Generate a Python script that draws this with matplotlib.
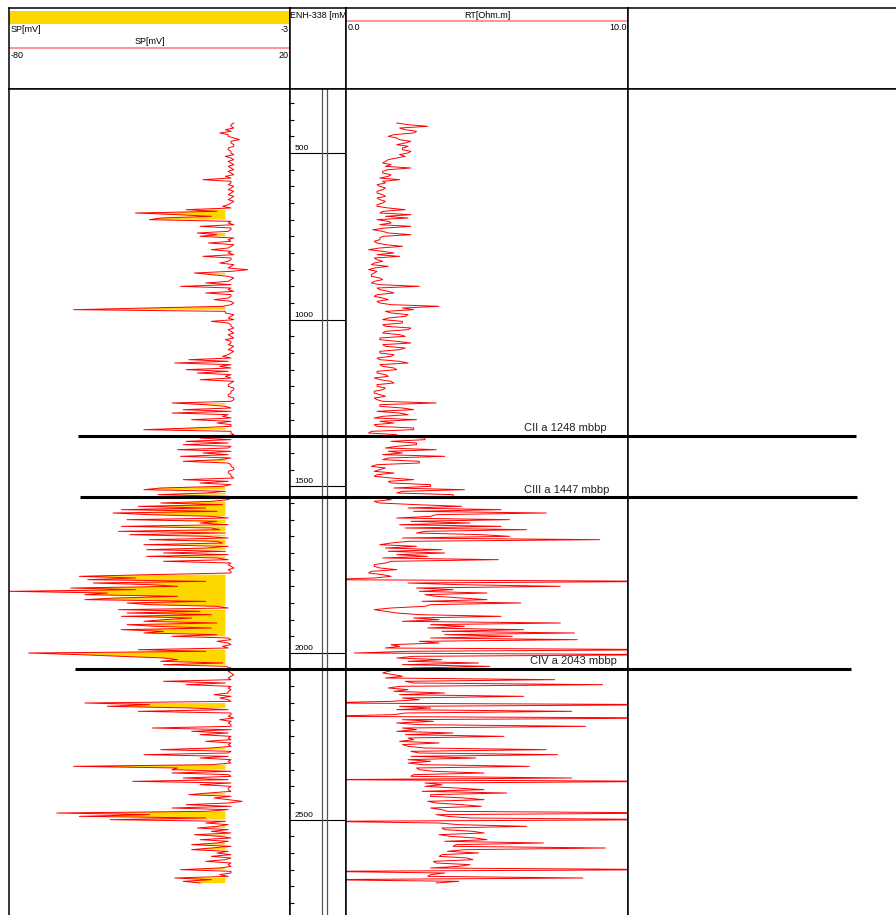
import numpy as np
import matplotlib.pyplot as plt

plt.rcParams['font.family'] = ['Liberation Sans', 'DejaVu Sans']

# log samples, first sample depth and interval (m MD)
top_depth = 410
step = 5

# SP [mV], one value every 5 m from 410 m (one row = 100 m)
sp_mv = [
    0, -1, -1, 0, -3, -1, -5, -2, -2, 0, 2, -1, -1, 0, 0, -2, -2, -1, -1, 0,                # 410
    -3, -1, 0, -2, -1, 0, -2, -1, 0, -2, -1, 0, -3, -1, -11, -1, -1, -2, 0, -1,             # 510
    -2, 0, -1, -2, 0, -1, -2, 0, -1, -2, -4, -1, -17, -6, -35, -20, -8, -26, -30, -1,       # 610
    -2, 0, -12, -1, -1, -2, -13, -6, -12, 0, -2, -1, -9, 0, -1, -2, -8, -1, -2, 0,          # 710
    -11, -1, -1, -2, -5, 0, -1, -2, 5, -1, -14, -8, -2, 0, -1, -2, -10, -1, -19, -1,        # 810
    -2, 0, -10, -1, -1, -2, -7, -1, 0, -1, -4, -30, -57, -3, -3, 0, -1, -2, 0, -8,          # 910
    -2, -1, -1, 0, -2, -1, 0, -2, -1, 0, -3, -1, -1, -2, 0, -1, -2, 0, -1, -2,              # 1010
    -4, -1, -16, -2, -21, -1, -5, -1, -17, -2, -13, -1, -3, -1, -12, 0, -1, -2, -2, 0,      # 1110
    0, -1, -1, -2, -2, 0, 0, -1, -22, -10, -3, -1, -18, -1, -22, -2, -4, -1, -15, -1,       # 1210
    -6, -1, -1, -15, -32, -1, -1, 0, -4, -12, -1, -17, -2, -18, -1, -2, -20, -1, -11, -2,   # 1310
    -19, -1, -5, -18, -2, -1, -1, 0, 0, -2, -2, -1, -1, 0, -18, -2, -12, -1, -4, -26,       # 1410
    -32, -3, -10, -27, -2, -1, -2, -8, -26, -4, -34, -10, -40, -6, -43, -30, -8, -2, -38, -6,   # 1510
    -12, -2, -40, -8, -5, -41, -3, -37, -10, -2, -30, -6, -4, -32, -2, -10, -31, -3, -25, -2,   # 1610
    -31, -6, -2, -25, -1, -2, -1, 0, -2, -1, -1, -30, -55, -35, -52, -10, -50, -30, -20, -58,   # 1710
    -35, -80, -45, -53, -20, -42, -53, -10, -38, -30, -6, -2, -41, -12, -38, -8, -40, -15, -25, -32,  # 1810
    -6, -38, -28, -8, -40, -25, -32, -6, -22, -2, -1, -6, -2, -1, -4, -2, -34, -10, -73, -55,   # 1910
    -40, -25, -20, -26, -4, -25, -3, -1, 0, -2, -1, 0, -1, -2, -1, -25, -3, -17, -1, -2,        # 2010
    -1, -2, -2, -7, -1, -5, -2, -1, -53, -30, -45, -15, -2, -34, -1, -1, -2, 0, -5, -1,         # 2110
    -2, -1, -1, -29, -1, -15, -2, -12, -1, -2, -1, -10, -1, -2, -1, -8, -26, -1, -2, -32,       # 2210
    -2, -12, -1, -2, -1, -8, -57, -20, -22, -1, -22, -2, -1, -18, -2, -36, -1, -12, -1, -2,     # 2310
    -2, -1, -9, -16, -1, -7, -2, 3, -2, -17, -1, -22, -2, -10, -63, -30, -55, -10, -44, -3,     # 2410
    -10, -2, -6, -13, -2, -8, -1, -14, -5, -1, -12, -2, -6, -15, -1, -8, -15, -2, -6, -1,       # 2510
    -8, -1, -3, -10, -1, -2, -1, -5, -19, -1, -1, -5, -2, -21, -8, -18, -12,                    # 2610-2690
]

# RT [Ohm.m], same sampling
rt_ohmm = [
    1.8, 2.2, 2.9, 1.9, 2.1, 2.5, 2.4, 1.7, 1.5, 1.8, 1.9, 2.3, 2.1, 1.8, 2.2, 2.0, 2.0, 2.3, 2.2, 1.9,   # 410
    2.1, 1.8, 1.5, 1.4, 1.3, 1.6, 1.4, 2.3, 1.5, 1.3, 1.3, 1.6, 1.5, 1.2, 1.9, 1.3, 1.4, 1.1, 1.2, 1.4,   # 510
    1.3, 1.1, 1.1, 1.3, 1.4, 1.1, 1.2, 1.4, 1.3, 1.1, 1.1, 1.5, 2.1, 1.3, 1.2, 2.3, 1.4, 2.2, 1.1, 1.5,   # 610
    1.6, 1.2, 2.3, 1.4, 0.95, 1.3, 1.5, 2.3, 1.3, 1.2, 1.2, 1.0, 1.1, 1.4, 2.0, 1.2, 0.8, 1.3, 1.7, 1.1,  # 710
    1.9, 1.0, 1.1, 1.3, 1.0, 0.9, 1.5, 1.0, 0.8, 1.1, 1.0, 0.9, 0.9, 1.2, 1.3, 1.0, 0.9, 1.2, 2.6, 1.1,   # 810
    1.2, 1.5, 1.7, 1.1, 1.0, 1.3, 1.5, 1.1, 1.2, 1.6, 3.3, 2.0, 2.4, 1.4, 1.6, 2.2, 2.1, 1.5, 1.3, 2.0,   # 910
    2.0, 1.3, 1.4, 2.3, 2.2, 1.4, 1.3, 1.9, 2.1, 1.2, 1.2, 1.8, 2.3, 1.3, 1.4, 2.1, 1.9, 1.2, 1.2, 1.7,   # 1010
    1.6, 1.1, 1.2, 1.9, 2.2, 1.2, 1.3, 1.7, 1.8, 1.1, 1.1, 1.4, 1.5, 1.0, 1.2, 1.6, 1.7, 1.1, 1.1, 1.4,   # 1110
    1.3, 1.0, 1.0, 1.2, 1.4, 1.0, 1.1, 1.3, 3.2, 1.2, 1.2, 2.0, 2.4, 1.1, 1.9, 2.2, 1.3, 1.0, 2.5, 1.2,   # 1210
    1.7, 1.0, 1.1, 2.4, 2.4, 0.9, 0.8, 1.8, 1.5, 2.8, 2.8, 1.6, 2.5, 2.5, 1.8, 1.4, 3.2, 1.5, 2.0, 1.3,   # 1310
    3.5, 1.5, 1.3, 2.6, 2.6, 1.1, 0.9, 1.4, 1.2, 1.0, 1.7, 1.1, 1.0, 1.6, 2.4, 1.5, 1.6, 3.0, 3.0, 1.7,   # 1410
    4.2, 2.0, 1.8, 3.8, 3.8, 1.3, 1.6, 1.0, 1.2, 2.5, 4.1, 2.2, 5.5, 2.4, 7.1, 3.2, 3.0, 1.8, 5.8, 2.3,   # 1510
    4.4, 1.9, 5.5, 2.1, 6.4, 2.8, 2.5, 4.8, 5.8, 2.0, 9.0, 2.2, 1.6, 1.2, 2.5, 1.4, 3.4, 1.5, 3.5, 1.8,   # 1610
    2.9, 1.3, 5.4, 1.6, 1.4, 1.0, 1.0, 1.2, 1.8, 0.9, 0.8, 1.3, 1.6, 1.0, -1, 12, 2.2, 4.0, 7.6, 2.5,     # 1710
    3.8, 2.6, 5.0, 2.8, 3.2, 4.1, 5.0, 2.7, 6.2, 3.0, 2.8, 1.6, 1.0, 1.4, 1.8, 2.6, 5.5, 2.4, 3.3, 2.0,   # 1810
    7.6, 3.0, 4.2, 2.9, 6.3, 3.4, 8.1, 3.5, 5.9, 3.0, 8.2, 2.6, 3.3, 1.6, 1.9, 1.4, 12, 2.2, 0.3, 12,     # 1910
    2.4, 1.8, 3.4, 2.2, 4.7, 2.0, 5.1, 2.4, 1.8, 1.5, 1.3, 1.7, 2.0, 1.4, 7.4, 2.1, 2.4, 9.1, 1.9, 1.5,   # 2010
    2.2, 1.7, 3.5, 1.9, 6.3, 2.0, 2.6, 1.6, -1, 12, 1.9, 3.0, 1.8, 8.0, 2.1, 1.7, -1, 12, 2.0, 3.1,       # 2110
    1.8, 2.6, 8.5, 2.0, 2.5, 1.8, 3.8, 2.1, 5.6, 2.2, 2.4, 1.9, 3.3, 2.0, 2.2, 2.8, 7.1, 2.3, 2.6, 7.5,   # 2210
    2.3, 4.6, 2.2, 3.0, 2.2, 2.7, 6.5, 2.5, 2.6, 3.1, 4.9, 2.4, 2.3, 8.0, -1, 12, 2.8, 3.4, 2.8, 3.9,     # 2310
    4.9, 2.7, 5.7, 3.0, 3.0, 4.2, 4.9, 2.9, 3.2, 4.1, 4.8, 3.0, 3.4, 3.6, 12, 3.2, 3.6, 4.4, 12, -1,      # 2410
    3.3, 4.0, 6.4, 3.4, 3.5, 4.5, 4.9, 3.3, 3.7, 4.6, 5.0, 3.5, 7.0, 3.9, 3.8, 9.2, 4.2, 3.6, 4.7, 3.4,   # 2510
    3.3, 4.3, 4.5, 3.1, 3.2, 4.4, 4.0, 3.0, 12, -1, 3.5, 3.0, 2.9, 8.4, -1, 4.0, 3.2,                    # 2610-2690
]

sp_cutoff = -3
depth_labels = [500, 1000, 1500, 2000, 2500]
marker_depths = [1348, 1533, 2048]
marker_labels = ['CII a 1248 mbbp', 'CIII a 1447 mbbp', 'CIV a 2043 mbbp']

sp = np.array(sp_mv, float)
rt = np.array(rt_ohmm, float)
sp_depth = top_depth + step * np.arange(len(sp))
rt_depth = top_depth + step * np.arange(len(rt))

W, H = 896, 915
def box(x0, y0, x1, y1):
    # pixel box -> figure fraction
    return [x0 / W, 1 - y1 / H, (x1 - x0) / W, (y1 - y0) / H]

fig = plt.figure(figsize=(W / 100, H / 100), dpi=100)

dmin, dmax = 308, 2786
edges = [9, 290, 346, 628, 896]
heads, tracks = [], []
for i in range(4):
    h = fig.add_axes(box(edges[i], 8, edges[i + 1], 89))
    h.set_xlim(0, 1)
    h.set_ylim(89, 8)
    h.set_xticks([])
    h.set_yticks([])
    t = fig.add_axes(box(edges[i], 89, edges[i + 1], H))
    t.set_ylim(dmax, dmin)
    t.set_xticks([])
    t.set_yticks([])
    t.spines['bottom'].set_visible(False)
    for a in (h, t):
        for s in a.spines.values():
            s.set_linewidth(1.1)
    heads.append(h)
    tracks.append(t)
heads[3].spines['right'].set_visible(False)
tracks[3].spines['right'].set_visible(False)

fs = 6.5
# SP header
h = heads[0]
h.axhspan(10.5, 23.5, color='#FFD700', lw=0)
h.text(0.004, 29, 'SP[mV]', fontsize=fs, va='center')
h.text(0.996, 29, str(sp_cutoff), fontsize=fs, va='center', ha='right')
h.text(0.5, 42, 'SP[mV]', fontsize=fs, va='center', ha='center')
h.axhline(48, color='#FF8080', lw=1.2)
h.text(0.004, 55, '-80', fontsize=fs, va='center')
h.text(0.996, 55, '20', fontsize=fs, va='center', ha='right')

# depth header
heads[1].text(0.0, 15, 'ENH-338 [mMD]', fontsize=6.4, va='center', clip_on=True)

# RT header
h = heads[2]
h.text(0.5, 15, 'RT[Ohm.m]', fontsize=fs, va='center', ha='center')
h.axhline(21, color='#FF8080', lw=1.2)
h.text(0.004, 28, '0.0', fontsize=fs, va='center')
h.text(0.996, 28, '10.0', fontsize=fs, va='center', ha='right')

# SP track, yellow only between consecutive samples below the cutoff
ax = tracks[0]
ax.set_xlim(-80, 20)
ax.fill_betweenx(sp_depth, sp, sp_cutoff, where=sp < sp_cutoff,
                 interpolate=False, color='#FFD700', lw=0)
ax.plot(sp, sp_depth, color='red', lw=0.7)

# depth track
ax = tracks[1]
ax.set_xlim(0, 1)
ax.set_yticks([d for d in range(350, 2800, 50) if d % 500])
ax.tick_params(axis='y', direction='in', length=3, width=0.8,
               left=True, labelleft=False)
for d in depth_labels:
    ax.axhline(d, color='black', lw=0.8)
    ax.text(0.08, d - 3, str(d), fontsize=6, va='bottom')
ax.axvline(0.566, color='#555555', lw=0.9)
ax.axvline(0.66, color='#555555', lw=0.9)

# RT track
ax = tracks[2]
ax.set_xlim(0, 10)
ax.plot(rt, rt_depth, color='red', lw=0.7)

# formation tops across the tracks
ov = fig.add_axes(box(0, 89, W, H))
ov.set_xlim(0, W)
ov.set_ylim(dmax, dmin)
ov.axis('off')
line_x = [(78, 856), (80, 857), (75, 851)]
text_x = [524, 524, 530]
for d, lab, (x0, x1), tx in zip(marker_depths, marker_labels, line_x, text_x):
    ov.hlines(d, x0, x1, color='black', lw=2.2)
    ov.text(tx, d - 8, lab, fontsize=8, va='bottom', color='#222222')

fig.savefig('out.png', dpi=100)
